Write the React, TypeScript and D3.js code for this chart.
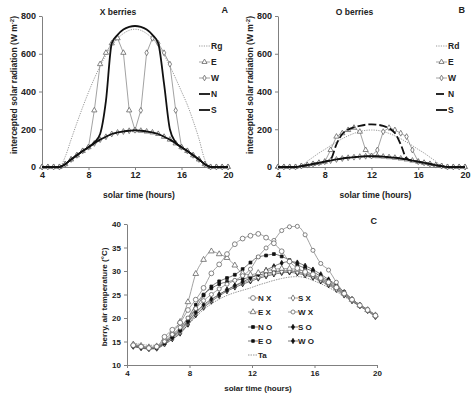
import React, { useRef, useEffect } from 'react';
import * as d3 from 'd3';

// ---- data ----
// panels A and B: half-hour steps
const hoursAB = [4, 4.5, 5, 5.5, 6, 6.5, 7, 7.5, 8, 8.5, 9, 9.5, 10, 10.5, 11, 11.5, 12, 12.5, 13, 13.5, 14, 14.5, 15, 15.5, 16, 16.5, 17, 17.5, 18, 18.5, 19, 19.5, 20];

// A: X berries (W m-2)
const aRg = [0, 0, 0, 0, 55, 145, 233, 317, 396, 469, 535, 593, 641, 680, 707, 724, 730, 724, 707, 680, 641, 593, 535, 469, 400, 330, 245, 150, 40, 0, 0, 0, 0];
const aE = [0, 0, 0, 0, 15, 40, 62, 85, 105, 300, 545, 605, 655, 682, 605, 300, 195, 192, 188, 183, 175, 160, 145, 125, 105, 85, 62, 40, 15, 0, 0, 0, 0];
const aW = [0, 0, 0, 0, 15, 40, 62, 85, 105, 125, 145, 160, 175, 183, 188, 192, 195, 300, 605, 682, 655, 605, 545, 300, 105, 85, 62, 40, 15, 0, 0, 0, 0];
const aN = [0, 0, 0, 0, 15, 40, 62, 85, 105, 130, 175, 350, 655, 700, 728, 742, 747, 742, 728, 700, 655, 440, 200, 130, 105, 85, 62, 40, 15, 0, 0, 0, 0];
const aS = [0, 0, 0, 0, 15, 40, 62, 85, 105, 125, 145, 160, 175, 183, 188, 192, 195, 192, 188, 183, 175, 160, 145, 125, 105, 85, 62, 40, 15, 0, 0, 0, 0];

// B: O berries (W m-2)
const bRd = [0, 0, 0, 0, 5, 30, 52, 74, 93, 113, 132, 150, 165, 178, 188, 194, 196, 194, 188, 178, 165, 150, 132, 113, 93, 74, 52, 30, 5, 0, 0, 0, 0];
const bE = [0, 0, 0, 0, 5, 10, 16, 22, 28, 90, 161, 179, 196, 208, 187, 90, 58, 57, 55, 52, 49, 45, 40, 34, 28, 22, 16, 10, 5, 0, 0, 0, 0];
const bW = [0, 0, 0, 0, 5, 10, 16, 22, 28, 34, 40, 45, 49, 52, 55, 57, 58, 90, 187, 208, 196, 179, 161, 90, 28, 22, 16, 10, 5, 0, 0, 0, 0];
const bN = [0, 0, 0, 0, 5, 10, 16, 22, 28, 40, 120, 175, 198, 210, 218, 224, 226, 224, 218, 205, 180, 120, 45, 32, 28, 22, 16, 10, 5, 0, 0, 0, 0];
const bS = [0, 0, 0, 0, 5, 10, 16, 22, 28, 34, 40, 45, 49, 52, 55, 57, 58, 57, 55, 52, 49, 45, 40, 34, 28, 22, 16, 10, 5, 0, 0, 0, 0];

// C: berry and air temperature (°C)
const hoursC = [4.4, 4.9, 5.4, 5.9, 6.4, 6.9, 7.4, 7.9, 8.4, 8.9, 9.4, 9.9, 10.4, 10.9, 11.4, 11.9, 12.4, 12.9, 13.4, 13.9, 14.4, 14.9, 15.4, 15.9, 16.4, 16.9, 17.4, 17.9, 18.4, 18.9, 19.4, 19.9];
const tNX = [14.2, 13.9, 13.6, 13.9, 16.0, 17.5, 19.0, 21.7, 23.9, 26.4, 29.5, 31.4, 33.6, 35.7, 36.9, 37.5, 37.9, 37.1, 35.9, 34.2, 32.0, 30.6, 29.8, 29.3, 28.5, 27.6, 26.5, 25.2, 23.9, 22.7, 21.7, 20.5];
const tSX = [14.1, 13.8, 13.5, 13.7, 14.6, 15.8, 17.0, 19.0, 21.0, 22.5, 23.8, 25.0, 26.0, 26.8, 27.5, 28.1, 28.7, 29.2, 29.6, 29.9, 30.0, 29.8, 29.4, 28.9, 28.1, 27.3, 26.2, 25.0, 23.8, 22.6, 21.6, 20.3];
const tEX = [14.4, 14.1, 13.8, 14.0, 15.5, 16.9, 19.2, 23.4, 29.4, 32.4, 34.2, 33.6, 32.8, 31.2, 29.5, 29.2, 29.6, 30.0, 30.4, 30.5, 30.5, 30.3, 29.9, 29.2, 28.4, 27.5, 26.5, 25.2, 23.9, 22.7, 21.7, 20.6];
const tWX = [14.3, 14.0, 13.7, 13.8, 15.0, 16.5, 18.0, 20.0, 22.0, 23.7, 25.0, 26.2, 27.2, 28.0, 29.0, 30.4, 33.0, 34.9, 36.5, 38.6, 39.4, 39.5, 37.7, 34.4, 31.6, 30.2, 27.6, 25.3, 23.9, 22.7, 21.7, 20.6];
const tNO = [14.0, 13.7, 13.5, 13.6, 14.6, 16.0, 17.5, 19.5, 22.0, 24.8, 26.7, 27.8, 28.5, 29.2, 30.4, 31.8, 33.0, 33.3, 33.6, 33.1, 32.3, 31.3, 30.6, 29.9, 28.8, 27.9, 26.8, 25.5, 24.0, 22.8, 21.8, 20.6];
const tSO = [13.9, 13.6, 13.4, 13.5, 14.4, 15.5, 16.7, 18.6, 20.6, 22.2, 23.5, 24.7, 25.7, 26.5, 27.2, 27.8, 28.4, 28.9, 29.3, 29.6, 29.7, 29.5, 29.1, 28.6, 27.8, 27.0, 26.0, 24.8, 23.6, 22.5, 21.5, 20.2];
const tEO = [14.2, 13.9, 13.6, 13.8, 15.0, 16.2, 17.8, 20.0, 22.8, 25.0, 26.3, 27.2, 27.7, 28.0, 28.3, 28.7, 29.1, 29.5, 29.8, 30.0, 30.0, 29.8, 29.4, 28.9, 28.1, 27.3, 26.3, 25.1, 23.8, 22.6, 21.6, 20.4];
const tWO = [14.1, 13.8, 13.6, 13.7, 14.8, 15.9, 17.3, 19.2, 21.2, 22.8, 24.0, 25.0, 26.0, 26.9, 27.7, 28.5, 29.3, 30.2, 31.0, 31.7, 32.0, 31.8, 31.1, 30.3, 29.3, 28.2, 27.0, 25.5, 24.0, 22.8, 21.8, 20.5];
const tTa = [14.6, 14.4, 14.2, 14.2, 14.5, 15.5, 16.8, 18.5, 20.2, 21.8, 23.0, 24.0, 24.8, 25.4, 25.9, 26.4, 27.0, 27.5, 28.0, 28.4, 28.7, 28.8, 28.6, 28.0, 27.3, 26.5, 25.6, 24.6, 23.5, 22.5, 21.5, 20.3];

const xTicks = [4, 8, 12, 16, 20];
const radTicks = [0, 200, 400, 600, 800];
const tempTicks = [10, 15, 20, 25, 30, 35, 40];

const FONT = "'Liberation Sans', Arial, sans-serif";
const AXIS = '#808080';
const LINE = '#8a8a8a';

type Sel = d3.Selection<SVGGElement, unknown, null, undefined>;

// axes with gray lines and bold labels
function axes(g: Sel, x: any, y: any, yTicks: number[], fs: number) {
  const ax = g.append('g')
    .attr('transform', `translate(0,${y.range()[0]})`)
    .call(d3.axisBottom(x).tickValues(xTicks).tickSize(3).tickPadding(2).tickSizeOuter(0));
  const ay = g.append('g')
    .attr('transform', `translate(${x.range()[0]},0)`)
    .call(d3.axisLeft(y).tickValues(yTicks).tickSize(3).tickPadding(3).tickSizeOuter(0));
  [ax, ay].forEach(a => {
    a.select('.domain').attr('stroke', AXIS);
    a.selectAll('.tick line').attr('stroke', AXIS);
    a.selectAll('.tick text').attr('fill', '#222').style('font-family', FONT)
      .style('font-size', fs + 'px').style('font-weight', 'bold');
  });
}

function marker(g: any, type: any, size: number, cx: number, cy: number, fill: string, stroke: string) {
  g.append('path')
    .attr('d', d3.symbol().type(type).size(size)())
    .attr('transform', `translate(${cx},${cy})`)
    .attr('fill', fill).attr('stroke', stroke).attr('stroke-width', 0.8);
}

function series(g: Sel, x: any, y: any, xs: number[], ys: number[], o: any) {
  const pts: [number, number][] = xs.map((t, i) => [t, ys[i]]);
  const line = d3.line<[number, number]>()
    .x(d => x(d[0])).y(d => y(d[1]))
    .curve(o.curve || d3.curveLinear);
  g.append('path').attr('d', line(pts)).attr('fill', 'none')
    .attr('stroke', o.stroke).attr('stroke-width', o.width || 0.8)
    .attr('stroke-dasharray', o.dash || null);
  if (o.symbol) {
    pts.forEach(p => marker(g, o.symbol, o.size, x(p[0]), y(p[1]), o.fill, o.mstroke));
  }
}

function text(g: any, x: number, y: number, s: string, fs: number, anchor = 'start', weight = 'bold') {
  return g.append('text').attr('x', x).attr('y', y).attr('text-anchor', anchor)
    .style('font-family', FONT).style('font-size', fs + 'px').style('font-weight', weight)
    .attr('fill', '#222').text(s);
}

// one radiation panel (A or B)
function radPanel(svg: any, x0: number, x1: number, title: string, letter: string, refName: string,
  ref: number[], e: number[], w: number[], n: number[], s: number[], nDash: string | null) {
  const g: Sel = svg.append('g');
  const x = d3.scaleLinear().domain([4, 20]).range([x0, x1]);
  const y = d3.scaleLinear().domain([0, 800]).range([167, 16]);
  axes(g, x, y, radTicks, 9);

  series(g, x, y, hoursAB, ref, { stroke: '#999', width: 1, dash: '1.2,1.2', curve: d3.curveMonotoneX });
  series(g, x, y, hoursAB, e, { stroke: LINE, symbol: d3.symbolTriangle, size: 12, fill: '#fff', mstroke: '#666' });
  series(g, x, y, hoursAB, w, { stroke: LINE, symbol: d3.symbolDiamond, size: 10, fill: '#fff', mstroke: '#666' });
  series(g, x, y, hoursAB, s, { stroke: '#111', width: 1.8, curve: d3.curveMonotoneX });
  series(g, x, y, hoursAB, n, { stroke: '#111', width: 1.8, dash: nDash, curve: d3.curveMonotoneX });

  // title, panel letter, axis labels
  text(g, (x0 + x1) / 2 - 17, 15, title, 8.5, 'middle');
  text(g, x1, 13, letter, 9, 'end');
  text(g, (x0 + x1) / 2 + 4, 198, 'solar time  (hours)', 8.5, 'middle');
  const yl = g.append('text')
    .attr('transform', `translate(${x0 - 25},${85}) rotate(-90)`)
    .attr('text-anchor', 'middle').style('font-family', FONT)
    .style('font-size', '8.5px').style('font-weight', 'bold').attr('fill', '#222');
  yl.append('tspan').text('intercepted solar radiation (W m');
  yl.append('tspan').attr('dy', -3).style('font-size', '6px').text('-2');
  yl.append('tspan').attr('dy', 3).text(')');

  // legend
  const lx = x1 - 29;
  const rows = [46, 62, 78, 94, 110];
  const lg = g.append('g');
  const seg = (yy: number, o: any) => {
    lg.append('line').attr('x1', lx).attr('x2', lx + 11).attr('y1', yy).attr('y2', yy)
      .attr('stroke', o.stroke).attr('stroke-width', o.width || 0.8).attr('stroke-dasharray', o.dash || null);
    if (o.symbol) marker(lg, o.symbol, o.size, lx + 5.5, yy, '#fff', '#666');
  };
  seg(rows[0], { stroke: '#999', width: 1, dash: '1.2,1.2' });
  seg(rows[1], { stroke: LINE, symbol: d3.symbolTriangle, size: 11 });
  seg(rows[2], { stroke: LINE, symbol: d3.symbolDiamond, size: 9 });
  seg(rows[3], { stroke: '#111', width: 1.8, dash: nDash });
  seg(rows[4], { stroke: '#111', width: 1.8 });
  [refName, 'E', 'W', 'N', 'S'].forEach((t, i) => text(lg, lx + 12, rows[i] + 3, t, 8.5));
}

const App = () => {
  const ref = useRef<SVGSVGElement>(null);

  useEffect(() => {
    const svg = d3.select(ref.current);
    svg.selectAll('*').remove();

    radPanel(svg, 42, 228, 'X berries', 'A', 'Rg', aRg, aE, aW, aN, aS, null);
    radPanel(svg, 278, 465, 'O berries', 'B', 'Rd', bRd, bE, bW, bN, bS, '8,3');

    // panel C: temperatures
    const g: Sel = svg.append('g');
    const x = d3.scaleLinear().domain([4, 20]).range([127, 377]);
    const y = d3.scaleLinear().domain([10, 40]).range([365, 224]);
    axes(g, x, y, tempTicks, 8);

    const curve = d3.curveMonotoneX;
    const tSeries = [
      { ys: tTa, label: 'Ta', stroke: '#999', dash: '1.5,1', width: 1 },
      { ys: tSO, label: 'S O', stroke: '#555', symbol: d3.symbolDiamond, size: 8, fill: '#111', mstroke: '#111' },
      { ys: tEO, label: 'E O', stroke: '#555', symbol: d3.symbolSquare, size: 7, fill: '#111', mstroke: '#111' },
      { ys: tSX, label: 'S X', stroke: LINE, symbol: d3.symbolDiamond, size: 11, fill: '#fff', mstroke: '#666' },
      { ys: tWO, label: 'W O', stroke: '#555', symbol: d3.symbolDiamond, size: 8, fill: '#111', mstroke: '#111' },
      { ys: tNO, label: 'N O', stroke: '#555', symbol: d3.symbolSquare, size: 8, fill: '#111', mstroke: '#111' },
      { ys: tEX, label: 'E X', stroke: LINE, symbol: d3.symbolTriangle, size: 14, fill: '#fff', mstroke: '#666' },
      { ys: tWX, label: 'W X', stroke: LINE, symbol: d3.symbolCircle, size: 13, fill: '#fff', mstroke: '#666' },
      { ys: tNX, label: 'N X', stroke: LINE, symbol: d3.symbolCircle, size: 18, fill: '#fff', mstroke: '#666' },
    ];
    tSeries.forEach(s => series(g, x, y, hoursC, s.ys, { ...s, curve }));

    text(g, 377, 224, 'C', 9, 'end');
    text(g, 258, 391, 'solar time  (hours)', 8, 'middle');
    g.append('text').attr('transform', 'translate(107,297) rotate(-90)')
      .attr('text-anchor', 'middle').style('font-family', FONT)
      .style('font-size', '8px').style('font-weight', 'bold').attr('fill', '#222')
      .text('berry, air temperature (°C)');

    // legend in two columns
    const lg = g.append('g');
    const byLabel = (l: string) => tSeries.find(s => s.label === l)!;
    const cols = [253, 293];
    const rowsC = [298, 312, 327, 341, 355];
    const order = [['N X', 'S X'], ['E X', 'W X'], ['N O', 'S O'], ['E O', 'W O'], ['Ta']];
    order.forEach((row, r) => row.forEach((lab, c) => {
      const s: any = byLabel(lab);
      const cx = cols[c], cy = rowsC[r];
      lg.append('line').attr('x1', cx - 5).attr('x2', cx + 5).attr('y1', cy).attr('y2', cy)
        .attr('stroke', s.stroke).attr('stroke-width', s.width || 0.8).attr('stroke-dasharray', s.dash || null);
      if (s.symbol) marker(lg, s.symbol, s.size, cx, cy, s.fill, s.mstroke);
      text(lg, cx + 5, cy + 3, lab, 8);
    }));
  }, []);

  return (
    <svg ref={ref} width={474} height={399}
      style={{ position: 'absolute', left: 0, top: 0, background: '#fff' }} />
  );
};

export default App;
